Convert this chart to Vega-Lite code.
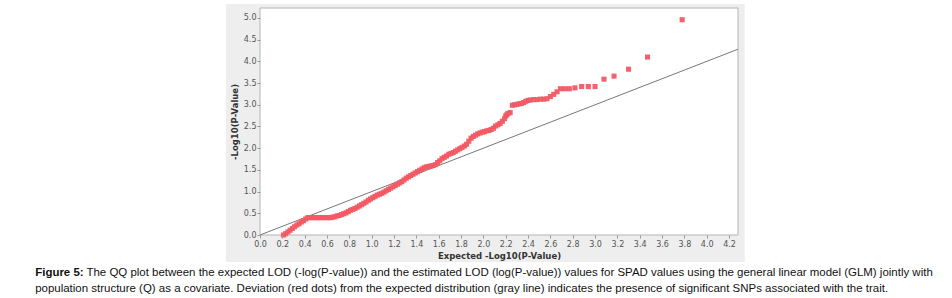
{
  "$schema": "https://vega.github.io/schema/vega-lite/v6.json",
  "width": 478,
  "height": 227,
  "autosize": {"type": "none"},
  "padding": {"left": 260, "top": 8, "right": 214, "bottom": 63},
  "background": "white",
  "view": {"fill": "white", "stroke": null},
  "config": {
    "axis": {
      "grid": false,
      "domain": false,
      "labelOverlap": false,
      "labelFlush": false,
      "labelSeparation": 0,
      "tickColor": "#999999",
      "tickSize": 3,
      "labelFont": "DejaVu Sans",
      "labelFontSize": 8,
      "labelColor": "#555555",
      "titleFont": "DejaVu Sans",
      "titleFontSize": 8.5,
      "titleFontWeight": "bold",
      "titleColor": "#333333"
    }
  },
  "data": {"values": [{"panel": "plot"}]},
  "datasets": {
    "qq": [
      {"expected": 0.21, "observed": 0.00},
      {"expected": 0.23, "observed": 0.03},
      {"expected": 0.25, "observed": 0.07},
      {"expected": 0.27, "observed": 0.11},
      {"expected": 0.29, "observed": 0.15},
      {"expected": 0.31, "observed": 0.19},
      {"expected": 0.33, "observed": 0.23},
      {"expected": 0.35, "observed": 0.26},
      {"expected": 0.37, "observed": 0.30},
      {"expected": 0.39, "observed": 0.33},
      {"expected": 0.41, "observed": 0.37},
      {"expected": 0.43, "observed": 0.40},
      {"expected": 0.45, "observed": 0.40},
      {"expected": 0.47, "observed": 0.40},
      {"expected": 0.49, "observed": 0.40},
      {"expected": 0.51, "observed": 0.40},
      {"expected": 0.53, "observed": 0.40},
      {"expected": 0.55, "observed": 0.40},
      {"expected": 0.57, "observed": 0.40},
      {"expected": 0.59, "observed": 0.40},
      {"expected": 0.61, "observed": 0.40},
      {"expected": 0.63, "observed": 0.40},
      {"expected": 0.65, "observed": 0.41},
      {"expected": 0.67, "observed": 0.42},
      {"expected": 0.69, "observed": 0.44},
      {"expected": 0.71, "observed": 0.45},
      {"expected": 0.73, "observed": 0.47},
      {"expected": 0.75, "observed": 0.49},
      {"expected": 0.77, "observed": 0.51},
      {"expected": 0.79, "observed": 0.54},
      {"expected": 0.81, "observed": 0.57},
      {"expected": 0.83, "observed": 0.59},
      {"expected": 0.85, "observed": 0.61},
      {"expected": 0.87, "observed": 0.64},
      {"expected": 0.89, "observed": 0.67},
      {"expected": 0.91, "observed": 0.70},
      {"expected": 0.93, "observed": 0.73},
      {"expected": 0.95, "observed": 0.76},
      {"expected": 0.97, "observed": 0.80},
      {"expected": 0.99, "observed": 0.83},
      {"expected": 1.01, "observed": 0.86},
      {"expected": 1.03, "observed": 0.89},
      {"expected": 1.05, "observed": 0.92},
      {"expected": 1.07, "observed": 0.94},
      {"expected": 1.09, "observed": 0.96},
      {"expected": 1.11, "observed": 0.99},
      {"expected": 1.13, "observed": 1.02},
      {"expected": 1.15, "observed": 1.05},
      {"expected": 1.17, "observed": 1.08},
      {"expected": 1.19, "observed": 1.11},
      {"expected": 1.21, "observed": 1.14},
      {"expected": 1.23, "observed": 1.17},
      {"expected": 1.25, "observed": 1.20},
      {"expected": 1.27, "observed": 1.23},
      {"expected": 1.29, "observed": 1.27},
      {"expected": 1.31, "observed": 1.31},
      {"expected": 1.33, "observed": 1.34},
      {"expected": 1.35, "observed": 1.37},
      {"expected": 1.37, "observed": 1.40},
      {"expected": 1.39, "observed": 1.43},
      {"expected": 1.41, "observed": 1.46},
      {"expected": 1.43, "observed": 1.49},
      {"expected": 1.45, "observed": 1.52},
      {"expected": 1.47, "observed": 1.55},
      {"expected": 1.49, "observed": 1.57},
      {"expected": 1.51, "observed": 1.58},
      {"expected": 1.53, "observed": 1.59},
      {"expected": 1.55, "observed": 1.60},
      {"expected": 1.57, "observed": 1.62},
      {"expected": 1.59, "observed": 1.67},
      {"expected": 1.61, "observed": 1.71},
      {"expected": 1.63, "observed": 1.76},
      {"expected": 1.65, "observed": 1.79},
      {"expected": 1.67, "observed": 1.82},
      {"expected": 1.69, "observed": 1.86},
      {"expected": 1.71, "observed": 1.88},
      {"expected": 1.73, "observed": 1.90},
      {"expected": 1.75, "observed": 1.93},
      {"expected": 1.77, "observed": 1.96},
      {"expected": 1.79, "observed": 1.99},
      {"expected": 1.81, "observed": 2.02},
      {"expected": 1.83, "observed": 2.05},
      {"expected": 1.85, "observed": 2.09},
      {"expected": 1.87, "observed": 2.16},
      {"expected": 1.89, "observed": 2.23},
      {"expected": 1.91, "observed": 2.27},
      {"expected": 1.93, "observed": 2.30},
      {"expected": 1.95, "observed": 2.33},
      {"expected": 1.97, "observed": 2.35},
      {"expected": 1.99, "observed": 2.37},
      {"expected": 2.01, "observed": 2.38},
      {"expected": 2.03, "observed": 2.40},
      {"expected": 2.05, "observed": 2.41},
      {"expected": 2.07, "observed": 2.43},
      {"expected": 2.09, "observed": 2.46},
      {"expected": 2.11, "observed": 2.51},
      {"expected": 2.13, "observed": 2.54},
      {"expected": 2.15, "observed": 2.57},
      {"expected": 2.17, "observed": 2.62},
      {"expected": 2.19, "observed": 2.68},
      {"expected": 2.20, "observed": 2.74},
      {"expected": 2.21, "observed": 2.77},
      {"expected": 2.22, "observed": 2.80},
      {"expected": 2.24, "observed": 2.82},
      {"expected": 2.26, "observed": 2.99},
      {"expected": 2.28, "observed": 3.00},
      {"expected": 2.30, "observed": 3.01},
      {"expected": 2.32, "observed": 3.02},
      {"expected": 2.34, "observed": 3.03},
      {"expected": 2.36, "observed": 3.05},
      {"expected": 2.38, "observed": 3.08},
      {"expected": 2.40, "observed": 3.10},
      {"expected": 2.42, "observed": 3.11},
      {"expected": 2.45, "observed": 3.12},
      {"expected": 2.48, "observed": 3.12},
      {"expected": 2.51, "observed": 3.13},
      {"expected": 2.54, "observed": 3.13},
      {"expected": 2.57, "observed": 3.14},
      {"expected": 2.60, "observed": 3.19},
      {"expected": 2.63, "observed": 3.24},
      {"expected": 2.66, "observed": 3.30},
      {"expected": 2.69, "observed": 3.37},
      {"expected": 2.73, "observed": 3.37},
      {"expected": 2.77, "observed": 3.37},
      {"expected": 2.82, "observed": 3.39},
      {"expected": 2.88, "observed": 3.42},
      {"expected": 2.94, "observed": 3.42},
      {"expected": 3.00, "observed": 3.42},
      {"expected": 3.08, "observed": 3.59},
      {"expected": 3.17, "observed": 3.66},
      {"expected": 3.30, "observed": 3.82},
      {"expected": 3.47, "observed": 4.10},
      {"expected": 3.78, "observed": 4.96}
    ]
  },
  "layer": [
    {
      "mark": {"type": "rect", "fill": "#eeeeee", "clip": false},
      "encoding": {
        "x": {
          "datum": -0.305, "type": "quantitative",
          "scale": {"domain": [0, 4.28], "nice": false, "zero": false},
          "axis": {
            "zindex": 2,
            "labelOverlap": false,
            "labelFlush": false,
            "title": "Expected -Log10(P-Value)",
            "tickCount": 22,
            "format": ".1f",
            "labelPadding": 2,
            "titlePadding": 3
          }
        },
        "x2": {"datum": 4.34},
        "y": {
          "datum": -0.622, "type": "quantitative",
          "scale": {"domain": [0, 5.23], "nice": false, "zero": false},
          "axis": {
            "zindex": 2,
            "labelOverlap": false,
            "labelFlush": false,
            "title": "-Log10(P-Value)",
            "tickCount": 11,
            "format": ".1f",
            "labelPadding": 1,
            "titlePadding": 4
          }
        },
        "y2": {"datum": 5.323}
      }
    },
    {
      "mark": {"type": "rect", "fill": "white", "stroke": "#b4b4b4", "strokeWidth": 1, "clip": false},
      "encoding": {
        "x": {"datum": 0, "type": "quantitative"},
        "x2": {"datum": 4.28},
        "y": {"datum": 0, "type": "quantitative"},
        "y2": {"datum": 5.23}
      }
    },
    {
      "mark": {"type": "rule", "color": "#777777", "strokeWidth": 1},
      "encoding": {
        "x": {"datum": 0, "type": "quantitative"},
        "y": {"datum": 0, "type": "quantitative"},
        "x2": {"datum": 4.28},
        "y2": {"datum": 4.28}
      }
    },
    {
      "data": {"name": "qq"},
      "mark": {"type": "square", "filled": true, "color": "#f25a64", "opacity": 0.95, "size": 26},
      "encoding": {
        "x": {"field": "expected", "type": "quantitative"},
        "y": {"field": "observed", "type": "quantitative"}
      }
    },
    {
      "mark": {"type": "text", "text": "Figure 5:", "font": "Liberation Sans", "fontSize": 11.47, "fontWeight": "bold", "align": "left", "baseline": "middle", "color": "#111111", "clip": false},
      "encoding": {
        "x": {"datum": -2.013, "type": "quantitative"},
        "y": {"datum": -0.887, "type": "quantitative"}
      }
    },
    {
      "mark": {"type": "text", "text": "The QQ plot between the expected LOD (-log(P-value)) and the estimated LOD (log(P-value)) values for SPAD values using the general linear model (GLM) jointly with", "font": "Liberation Sans", "fontSize": 11.47, "align": "left", "baseline": "middle", "color": "#111111", "clip": false},
      "encoding": {
        "x": {"datum": -1.554, "type": "quantitative"},
        "y": {"datum": -0.887, "type": "quantitative"}
      }
    },
    {
      "mark": {"type": "text", "text": "population structure (Q) as a covariate. Deviation (red dots) from the expected distribution (gray line) indicates the presence of significant SNPs associated with the trait.", "font": "Liberation Sans", "fontSize": 11.47, "align": "left", "baseline": "middle", "color": "#111111", "clip": false},
      "encoding": {
        "x": {"datum": -2.013, "type": "quantitative"},
        "y": {"datum": -1.233, "type": "quantitative"}
      }
    }
  ]
}
